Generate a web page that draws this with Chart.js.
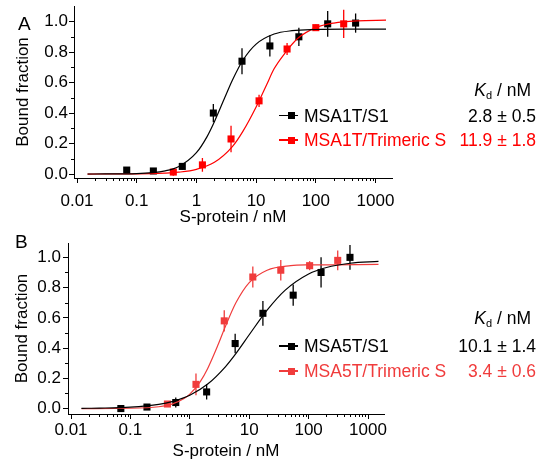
<!DOCTYPE html>
<html>
<head>
<meta charset="utf-8">
<script src="https://cdn.jsdelivr.net/npm/chart.js@4.4.1/dist/chart.umd.min.js"></script>
<style>
    body { margin: 0; background: #fff; }
    #wrap { position: relative; width: 542px; height: 469px; font-family: 'Liberation Sans', Arial, sans-serif; font-size: 17.5px; color: #000; }
    canvas { position: absolute; left: 0; }
    .txt { position: absolute; line-height: 20px; white-space: nowrap; }
    .mk { position: absolute; }
</style>
</head>
<body>
<div id="wrap">
    <canvas id="chartA" width="542" height="228" style="top:0"></canvas>
    <canvas id="chartB" width="542" height="232" style="top:230px"></canvas>
</div>
<script>
const FONT = "'Liberation Sans', Arial, sans-serif";
const BLACK = '#000000';
const RED_A = '#ff0000';
const RED_B = '#f03c3c';

// axis ticks
const xMajorTicks = [0.01, 0.1, 1, 10, 100, 1000];
const xTickLabels = ['0.01', '0.1', '1', '10', '100', '1000'];
const yMajorTicks = [0, 0.2, 0.4, 0.6, 0.8, 1.0];
const yTickLabels = ['0.0', '0.2', '0.4', '0.6', '0.8', '1.0'];
const yMinorTicks = [0.1, 0.3, 0.5, 0.7, 0.9];

// Panel A - MSA1T/S1 (black)
const a1Conc = [0.068, 0.19, 0.58, 1.92, 5.8, 17, 52, 158, 464];
const a1Bound = [0.026, 0.02, 0.05, 0.40, 0.74, 0.84, 0.90, 0.985, 0.99];
const a1Err = [0.015, 0.015, 0.02, 0.06, 0.085, 0.07, 0.06, 0.085, 0.063];
const a1FitConc = [0.015, 0.03, 0.1, 0.3, 0.5, 1, 1.5, 2, 3, 4, 6, 10, 20, 40, 100, 300, 1500];
const a1FitBound = [0.0001, 0.0004, 0.003, 0.021, 0.048, 0.14, 0.244, 0.343, 0.503, 0.615, 0.746, 0.852, 0.918, 0.940, 0.948, 0.95, 0.95];

// Panel A - MSA1T/Trimeric S (red)
const a2Conc = [0.41, 1.26, 3.8, 11.2, 33, 100, 293];
const a2Bound = [0.013, 0.06, 0.23, 0.48, 0.82, 0.96, 0.985];
const a2Err = [0.025, 0.045, 0.087, 0.04, 0.04, 0.02, 0.093];
const a2FitConc = [0.015, 0.1, 0.3, 0.5, 1, 2, 4, 6, 10, 15, 20, 30, 50, 100, 200, 500, 1500];
const a2FitBound = [0, 0.001, 0.006, 0.012, 0.031, 0.077, 0.18, 0.28, 0.44, 0.586, 0.69, 0.79, 0.89, 0.96, 0.99, 1.005, 1.009];

// Panel B - MSA5T/S1 (black)
const b1Conc = [0.069, 0.19, 0.58, 1.92, 5.8, 17, 55, 162, 497];
const b1Bound = [0.0, 0.01, 0.04, 0.11, 0.43, 0.63, 0.75, 0.90, 1.0];
const b1Err = [0.01, 0.015, 0.033, 0.05, 0.064, 0.082, 0.07, 0.10, 0.082];
const b1FitConc = [0.015, 0.03, 0.1, 0.3, 0.5, 1, 2, 4, 6, 10, 20, 40, 100, 200, 500, 1500];
const b1FitBound = [0.0015, 0.003, 0.0097, 0.028, 0.046, 0.088, 0.162, 0.278, 0.365, 0.488, 0.651, 0.782, 0.890, 0.933, 0.961, 0.973];

// Panel B - MSA5T/Trimeric S (red)
const b2Conc = [0.42, 1.27, 3.8, 11.5, 34, 104, 309];
const b2Bound = [0.03, 0.16, 0.58, 0.87, 0.915, 0.945, 0.98];
const b2Err = [0.01, 0.072, 0.07, 0.07, 0.068, 0.03, 0.066];
const b2FitConc = [0.015, 0.1, 0.3, 0.5, 0.8, 1, 1.5, 2, 3, 4, 6, 10, 20, 50, 100, 1500];
const b2FitBound = [0, 0.002, 0.012, 0.029, 0.066, 0.095, 0.178, 0.265, 0.423, 0.546, 0.701, 0.833, 0.915, 0.945, 0.950, 0.953];

// legend text
const namesA = ['MSA1T/S1', 'MSA1T/Trimeric S'];
const kdA = ['2.8 \u00b1 0.5', '11.9 \u00b1 1.8'];
const namesB = ['MSA5T/S1', 'MSA5T/Trimeric S'];
const kdB = ['10.1 \u00b1 1.4', '3.4 \u00b1 0.6'];

const xMinorTicks = [];
xMajorTicks.forEach(m => { for (let k = 2; k <= 9; k++) xMinorTicks.push(m * k); });

function pts(xs, ys) { return xs.map((x, i) => ({ x: x, y: ys[i] })); }

const errorBars = {
    id: 'errorBars',
    beforeDatasetsDraw(chart) {
        const { ctx, scales: { x, y } } = chart;
        chart.data.datasets.forEach(ds => {
            if (!ds.errors) return;
            ctx.save();
            ctx.strokeStyle = ds.backgroundColor;
            ctx.lineWidth = 1.3;
            ds.data.forEach((p, i) => {
                const px = x.getPixelForValue(p.x);
                ctx.beginPath();
                ctx.moveTo(px, y.getPixelForValue(p.y - ds.errors[i]));
                ctx.lineTo(px, y.getPixelForValue(p.y + ds.errors[i]));
                ctx.stroke();
            });
            ctx.restore();
        });
    }
};

const minorTicks = {
    id: 'minorTicks',
    afterDraw(chart) {
        const { ctx, scales: { x, y } } = chart;
        ctx.save();
        ctx.strokeStyle = '#000';
        ctx.lineWidth = 1;
        ctx.beginPath();
        xMinorTicks.forEach(v => {
            if (v < x.min || v > x.max) return;
            const px = Math.round(x.getPixelForValue(v)) + 0.5;
            ctx.moveTo(px, x.top);
            ctx.lineTo(px, x.top + 3);
        });
        yMinorTicks.forEach(v => {
            const py = Math.round(y.getPixelForValue(v)) + 0.5;
            ctx.moveTo(y.right, py);
            ctx.lineTo(y.right - 3, py);
        });
        ctx.stroke();
        ctx.restore();
    }
};

function makeChart(id, cfg) {
    const font = { family: FONT, size: 17 };
    return new Chart(document.getElementById(id), {
        type: 'scatter',
        data: {
            datasets: [
                { type: 'line', data: pts(cfg.fit1[0], cfg.fit1[1]), borderColor: BLACK, borderWidth: 1.2, pointRadius: 0, fill: false, cubicInterpolationMode: 'monotone' },
                { type: 'line', data: pts(cfg.fit2[0], cfg.fit2[1]), borderColor: cfg.red, borderWidth: 1.2, pointRadius: 0, fill: false, cubicInterpolationMode: 'monotone' },
                { data: pts(cfg.s1[0], cfg.s1[1]), errors: cfg.s1[2], backgroundColor: BLACK, borderWidth: 0, pointStyle: 'rect', pointRadius: 5 },
                { data: pts(cfg.s2[0], cfg.s2[1]), errors: cfg.s2[2], backgroundColor: cfg.red, borderWidth: 0, pointStyle: 'rect', pointRadius: 5 }
            ]
        },
        options: {
            responsive: false,
            animation: false,
            layout: { padding: { left: 0, top: cfg.top, right: cfg.right, bottom: 0 } },
            plugins: { legend: { display: false }, tooltip: { enabled: false } },
            scales: {
                x: {
                    type: 'logarithmic',
                    min: cfg.xMin, max: cfg.xMax,
                    afterBuildTicks: s => { s.ticks = xMajorTicks.map(v => ({ value: v })); },
                    afterFit: s => { s.height = cfg.xHeight; s.paddingLeft = 0; s.paddingRight = 0; },
                    ticks: {
                        autoSkip: false, maxRotation: 0, color: '#000', font: font, padding: cfg.xPad,
                        callback: (v) => xTickLabels[xMajorTicks.findIndex(m => Math.abs(m - v) < m * 1e-6)]
                    },
                    grid: { drawOnChartArea: false, tickLength: 5, tickColor: '#000' },
                    border: { color: '#000', width: 1 },
                    title: { display: true, text: 'S-protein / nM', color: '#000', font: font, padding: { top: 0, bottom: 0 } }
                },
                y: {
                    min: cfg.yMin, max: cfg.yMax,
                    afterBuildTicks: s => { s.ticks = yMajorTicks.map(v => ({ value: v })); },
                    afterFit: s => { s.width = cfg.yWidth; s.paddingTop = 0; s.paddingBottom = 0; },
                    ticks: {
                        color: '#000', font: font, padding: cfg.yPad,
                        callback: (v) => yTickLabels[yMajorTicks.findIndex(m => Math.abs(m - v) < 1e-6)]
                    },
                    grid: { drawOnChartArea: false, tickLength: 5, tickColor: '#000' },
                    border: { color: '#000', width: 1 },
                    title: { display: true, text: 'Bound fraction', color: '#000', font: font, padding: { top: cfg.yTitlePad, bottom: 0 } }
                }
            }
        },
        plugins: [errorBars, minorTicks]
    });
}

makeChart('chartA', {
    red: RED_A, top: 6, right: 150, xHeight: 50, yWidth: 74,
    xMin: 0.0089, xMax: 1888, yMin: -0.026, yMax: 1.102,
    xPad: 8, yPad: 1, yTitlePad: 13,
    fit1: [a1FitConc, a1FitBound], fit2: [a2FitConc, a2FitBound],
    s1: [a1Conc, a1Bound, a1Err], s2: [a2Conc, a2Bound, a2Err]
});

makeChart('chartB', {
    red: RED_B, top: 13, right: 158, xHeight: 48, yWidth: 68,
    xMin: 0.0089, xMax: 1858, yMin: -0.036, yMax: 1.095,
    xPad: 1, yPad: 2, yTitlePad: 12,
    fit1: [b1FitConc, b1FitBound], fit2: [b2FitConc, b2FitBound],
    s1: [b1Conc, b1Bound, b1Err], s2: [b2Conc, b2Bound, b2Err]
});

// panel letters, Kd header and legend drawn as html
const wrap = document.getElementById('wrap');
function addEl(cls, html, style) {
    const d = document.createElement('div');
    d.className = cls;
    d.innerHTML = html;
    Object.assign(d.style, style);
    wrap.appendChild(d);
}

function legend(letter, letterTop, letterLeft, names, kds, red, kdY, rowYs) {
    addEl('txt', letter, { left: letterLeft + 'px', top: letterTop + 'px', fontSize: '19px' });
    addEl('txt', '<i>K</i><span style="font-size:11px;position:relative;top:3px">d</span> / nM',
        { right: '11px', top: (kdY - 9.6) + 'px' });
    const colors = [BLACK, red];
    names.forEach((n, i) => {
        const cy = rowYs[i];
        addEl('mk', '', { left: '279px', top: (cy - 0.75) + 'px', width: '19px', height: '1.5px', background: colors[i] });
        addEl('mk', '', { left: '288px', top: (cy - 3.5) + 'px', width: '7px', height: '7px', background: colors[i] });
        addEl('txt', n, { left: '304px', top: (cy - 9.8) + 'px', color: colors[i] });
        addEl('txt', kds[i], { right: '6px', top: (cy - 9.8) + 'px', color: colors[i] });
    });
}

legend('A', 13.5, 18, namesA, kdA, RED_A, 90, [115.5, 140]);
legend('B', 231.5, 15, namesB, kdB, RED_B, 318, [346, 371]);
</script>
</body>
</html>
